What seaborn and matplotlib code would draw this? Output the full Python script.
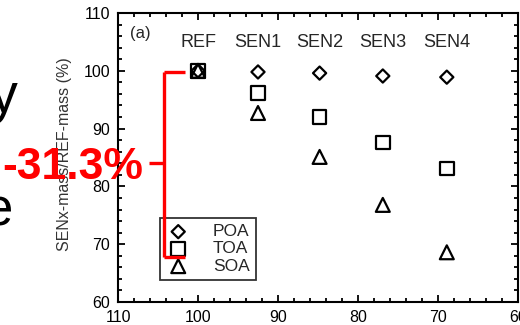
import numpy as np
import pandas as pd
import matplotlib
matplotlib.use("Agg")
import matplotlib.pyplot as plt
from matplotlib.lines import Line2D
from matplotlib.ticker import MultipleLocator
import seaborn as sns

# data
runs = ["REF", "SEN1", "SEN2", "SEN3", "SEN4"]
run_x = [100, 92.5, 84.8, 76.9, 68.9]
poa = [100, 99.8, 99.6, 99.1, 98.9]
toa = [100, 96.2, 92.0, 87.6, 83.1]
soa = [100, 92.7, 85.1, 76.8, 68.6]
series = ["POA", "TOA", "SOA"]

df = pd.DataFrame({
    "x": run_x * 3,
    "y": poa + toa + soa,
    "species": np.repeat(series, len(runs)),
})

sns.set_style("ticks")
plt.rcParams["font.family"] = ["Liberation Sans", "DejaVu Sans"]

fig = plt.figure(figsize=(5.2, 3.25), dpi=100)
ax = fig.add_axes([118 / 520, 1 - 302 / 325, 400 / 520, 289 / 325])

markers = {"POA": "D", "TOA": "s", "SOA": "^"}
sizes = {"POA": 45, "TOA": 95, "SOA": 100}
for sp in series:
    sub = df[df["species"] == sp]
    sns.scatterplot(data=sub, x="x", y="y", marker=markers[sp], s=sizes[sp],
                    facecolor="none", edgecolor="black", linewidth=1.6,
                    label=sp, ax=ax, zorder=3)

ax.set_xlim(110, 60)
ax.set_ylim(60, 110)
ax.xaxis.set_major_locator(MultipleLocator(10))
ax.xaxis.set_minor_locator(MultipleLocator(2))
ax.yaxis.set_major_locator(MultipleLocator(10))
ax.yaxis.set_minor_locator(MultipleLocator(2))
ax.tick_params(which="both", direction="in", top=True, right=True, width=1.3,
               labelsize=11.5, colors="black", pad=5.5)
ax.tick_params(which="major", length=5)
ax.tick_params(which="minor", length=3)
for s in ax.spines.values():
    s.set_linewidth(1.5)
    s.set_color("black")
ax.set_xlabel("")
ax.set_ylabel("")

for name, xv in zip(runs, run_x):
    ax.text(xv, 104.9, name, ha="center", va="center", fontsize=13)
ax.text(107.2, 106.5, "(a)", ha="center", va="center", fontsize=12)

leg = ax.legend(loc="upper left", bbox_to_anchor=(160 / 520, 1 - 218 / 325),
                bbox_transform=fig.transFigure, fontsize=12.5, frameon=True,
                fancybox=False, edgecolor="black", handletextpad=1.3,
                labelspacing=0.12, borderpad=0.35, handlelength=1.4,
                borderaxespad=0)
leg.get_frame().set_linewidth(1.3)

fig.text(64 / 520, 1 - 154 / 325, "SENx-mass/REF-mass (%)", rotation=90,
         ha="center", va="center", fontsize=11.5, color="#333333")

# slide overlay: red bracket and label
def px(x, y):
    return x / 520, 1 - y / 325

red = "#ff0000"
for (x0, y0), (x1, y1) in [((185, 72), (164, 72)), ((164, 72), (164, 257)),
                           ((164, 257), (185, 257)), ((149, 163), (164, 163))]:
    a, b = px(x0, y0)
    c, d = px(x1, y1)
    fig.add_artist(Line2D([a, c], [b, d], color=red, lw=2.4,
                          solid_capstyle="butt", transform=fig.transFigure))

fig.text(*px(143, 179), "-31.3%", ha="right", va="baseline", fontsize=32,
         fontweight="bold", color=red)
fig.text(*px(18, 112), "y", ha="right", va="baseline", fontsize=40, color="black")
fig.text(*px(13, 226), "e", ha="right", va="baseline", fontsize=38, color="black")

fig.savefig("out.png", dpi=100)
